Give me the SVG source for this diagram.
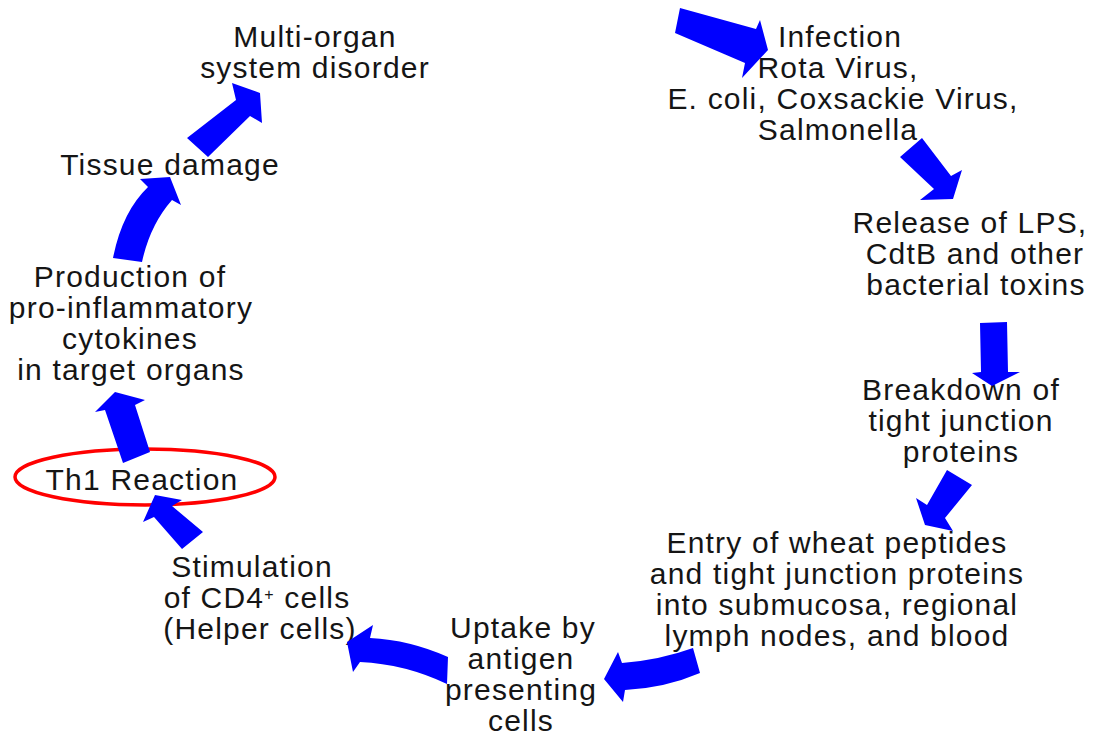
<svg xmlns="http://www.w3.org/2000/svg" width="1096" height="735" viewBox="0 0 1096 735">
<style>
text{font-family:"Liberation Sans",Arial,sans-serif;font-size:30px;letter-spacing:1.2px;fill:#151515;text-anchor:middle}
.arr{fill:#0000ff;stroke:none}
.sup{font-size:16px}
</style>
<rect width="1096" height="735" fill="#ffffff"/>
<g id="node-th1-ellipse">
<ellipse cx="145" cy="477" rx="130" ry="28" fill="none" stroke="#ff0000" stroke-width="3.5"/>
</g>
<g id="node-infection">
<text x="840" y="47">Infection</text>
<text x="838" y="78">Rota Virus,</text>
<text x="843" y="109">E. coli, Coxsackie Virus,</text>
<text x="838" y="140">Salmonella</text>
</g>
<g id="node-release">
<text x="970" y="233">Release of LPS,</text>
<text x="975" y="264">CdtB and other</text>
<text x="976" y="295">bacterial toxins</text>
</g>
<g id="node-breakdown">
<text x="961" y="400">Breakdown of</text>
<text x="961" y="431">tight junction</text>
<text x="961" y="462">proteins</text>
</g>
<g id="node-entry">
<text x="837" y="553">Entry of wheat peptides</text>
<text x="837" y="584">and tight junction proteins</text>
<text x="837" y="615">into submucosa, regional</text>
<text x="837" y="646">lymph nodes, and blood</text>
</g>
<g id="node-uptake">
<text x="523" y="638">Uptake by</text>
<text x="521" y="669">antigen</text>
<text x="521" y="700">presenting</text>
<text x="521" y="731">cells</text>
</g>
<g id="node-stimulation">
<text x="252" y="577">Stimulation</text>
<text x="257" y="608">of CD4<tspan class="sup" dy="-8">+</tspan><tspan dy="8"> cells</tspan></text>
<text x="260" y="639">(Helper cells)</text>
</g>
<g id="node-th1">
<text x="142" y="490">Th1 Reaction</text>
</g>
<g id="node-production">
<text x="130" y="287">Production of</text>
<text x="131" y="318">pro-inflammatory</text>
<text x="130" y="349">cytokines</text>
<text x="131" y="380">in target organs</text>
</g>
<g id="node-tissue">
<text x="170" y="175">Tissue damage</text>
</g>
<g id="node-multiorgan">
<text x="315" y="47">Multi-organ</text>
<text x="315" y="78">system disorder</text>
</g>
<g id="connectors">
<polygon class="arr" points="680,8 756,29 760,20 768,50 742,78 745,63 675,33"/>
<polygon class="arr" points="922,138 951,176 962,170 953,199 920,200 934,189 900,157"/>
<polygon class="arr" points="980,323 1007,322 1008,372 1020,372 992,386 972,373 981,372"/>
<polygon class="arr" points="947,470 972,485 945,518 953,531 925,525 916,498 927,505"/>
<path class="arr" d="M693,648 Q660,660 622,663 L618,652 L604,679 L623,702 L625,690 Q665,688 700,673 Z"/>
<path class="arr" d="M347,642 L373,625 L370,638 Q410,640 448,657 L447,684 Q405,664 360,662 L353,672 Z"/>
<polygon class="arr" points="155,495 182,500 172,506 203,532 182,549 154,517 143,522"/>
<polygon class="arr" points="115,392 145,400 135,405 150,452 123,463 105,410 95,412"/>
<path class="arr" d="M142,262 Q150,225 172,200 L181,205 L170,177 L140,179 L148,187 Q122,212 113,258 Z"/>
<polygon class="arr" points="187,138 236,100 232,83 260,93 262,123 250,116 208,157"/>
</g>
</svg>
